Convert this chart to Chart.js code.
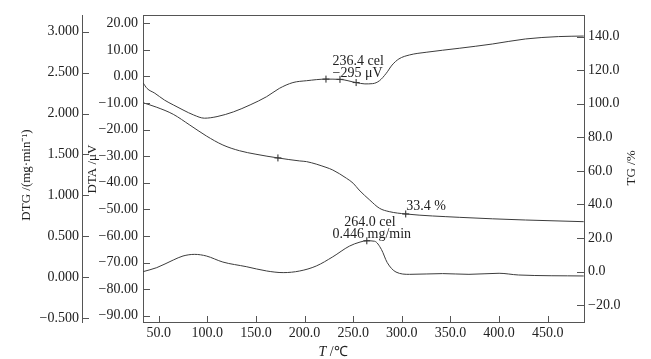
<!DOCTYPE html>
<html><head><meta charset="utf-8">
<script src="https://cdn.jsdelivr.net/npm/chart.js@4.4.1/dist/chart.umd.min.js"></script>
<style>html,body{margin:0;padding:0;background:#fff;}</style>
</head><body>
<canvas id="c" width="651" height="359" style="width:651px;height:359px;display:block"></canvas>
<script>
// ---- data ----
const dtaT = [34, 38, 46, 56, 65, 75, 86, 97, 110, 127, 144, 161, 174, 188, 202, 222, 236.4, 253, 262, 270, 277, 284, 290, 297, 308, 325, 359, 393, 427, 461, 487];
const dtaV = [-2.4, -4.5, -6.3, -8.9, -10.7, -12.6, -14.5, -15.7, -15.1, -13.3, -10.7, -7.6, -4.5, -2.3, -1.6, -1.0, -1.1, -2.3, -2.8, -2.7, -1.6, 1.2, 4.3, 6.6, 8.1, 9.1, 10.6, 12.2, 14.1, 15.0, 15.2];

const tgT = [34, 48, 65, 82, 99, 116, 133, 150, 172.6, 195, 202, 222, 229, 243, 250, 256, 267, 277, 287, 304, 359, 427, 487];
const tgV = [100.6, 97.9, 93.7, 87.3, 80.8, 75.4, 72.0, 69.9, 67.7, 65.9, 65.5, 62.1, 60.5, 55.6, 52.6, 48.6, 42.6, 37.7, 35.7, 34.3, 32.3, 30.7, 29.7];

const dtgT = [34, 48, 65, 75, 87, 99, 116, 140, 161, 178, 195, 212, 229, 246, 257, 264, 272, 279, 285, 294, 308, 342, 369, 400, 420, 487];
const dtgV = [0.069, 0.118, 0.211, 0.26, 0.28, 0.26, 0.186, 0.13, 0.077, 0.057, 0.077, 0.138, 0.25, 0.38, 0.43, 0.446, 0.44, 0.34, 0.179, 0.064, 0.036, 0.045, 0.036, 0.049, 0.028, 0.016];

// marker points
const dtaMarkT = [222, 236.4, 253];
const dtaMarkV = [-1.0, -1.1, -2.3];
const tgMarkT = [172.6, 304];
const tgMarkV = [67.7, 34.3];
const dtgMarkT = [264];
const dtgMarkV = [0.446];

// tick values and labels
const xTicks = [50, 100, 150, 200, 250, 300, 350, 400, 450];
const xTickLabels = ["50.0", "100.0", "150.0", "200.0", "250.0", "300.0", "350.0", "400.0", "450.0"];
const dtgTicks = [3, 2.5, 2, 1.5, 1, 0.5, 0, -0.5];
const dtgTickLabels = ["3.000", "2.500", "2.000", "1.500", "1.000", "0.500", "0.000", "\u22120.500"];
const dtaTicks = [20, 10, 0, -10, -20, -30, -40, -50, -60, -70, -80, -90];
const dtaTickLabels = ["20.00", "10.00", "0.00", "\u221210.00", "\u221220.00", "\u221230.00", "\u221240.00", "\u221250.00", "\u221260.00", "\u221270.00", "\u221280.00", "\u221290.00"];
const tgTicks = [140, 120, 100, 80, 60, 40, 20, 0, -20];
const tgTickLabels = ["140.0", "120.0", "100.0", "80.0", "60.0", "40.0", "20.0", "0.0", "\u221220.0"];

// annotation texts
const notes = [
  {text: "236.4 cel", x: 228.7, y: 5.55, axis: "yDTA"},
  {text: "\u2212295 \u03bcV", x: 228.7, y: 1.3, axis: "yDTA"},
  {text: "33.4 %", x: 304.5, y: 38.6, axis: "yTG"},
  {text: "264.0 cel", x: 240.9, y: 0.674, axis: "yDTG"},
  {text: "0.446 mg/min", x: 228.7, y: 0.524, axis: "yDTG"}
];

const FONT = "'Liberation Serif', 'Times New Roman', serif";
const LINE = '#3c3c3c';
const AXIS = '#555';
const TEXT = '#222';

const pts = (xs, ys) => xs.map((x, i) => ({x: x, y: ys[i]}));
const fixTicks = (vals) => (scale) => { scale.ticks = vals.map(v => ({value: v})); };
const lab = (vals, labels) => (v) => { const i = vals.indexOf(v); return i >= 0 ? labels[i] : ''; };

const lineDs = (data, axis) => ({
  data: data, yAxisID: axis, borderColor: LINE, borderWidth: 1, pointRadius: 0,
  cubicInterpolationMode: 'monotone', fill: false
});
const markDs = (data, axis) => ({
  data: data, yAxisID: axis, showLine: false, pointStyle: 'cross', pointRadius: 3.5,
  pointBorderColor: '#222', pointBorderWidth: 1, borderColor: '#222'
});

const decor = {
  id: 'decor',
  afterDraw(chart) {
    const ctx = chart.ctx, a = chart.chartArea, s = chart.scales;
    ctx.save();
    ctx.strokeStyle = AXIS; ctx.lineWidth = 1;
    ctx.beginPath();
    // top frame line
    ctx.moveTo(a.left, Math.round(a.top) + 0.5); ctx.lineTo(a.right, Math.round(a.top) + 0.5);
    s.x.ticks.forEach(t => { const p = Math.round(s.x.getPixelForValue(t.value)) + 0.5; ctx.moveTo(p, a.bottom); ctx.lineTo(p, a.bottom - 6); });
    s.yDTG.ticks.forEach(t => { const p = Math.round(s.yDTG.getPixelForValue(t.value)) + 0.5; ctx.moveTo(s.yDTG.right, p); ctx.lineTo(s.yDTG.right + 7, p); });
    s.yDTA.ticks.forEach(t => { const p = Math.round(s.yDTA.getPixelForValue(t.value)) + 0.5; ctx.moveTo(a.left, p); ctx.lineTo(a.left + 7, p); });
    s.yTG.ticks.forEach(t => { const p = Math.round(s.yTG.getPixelForValue(t.value)) + 0.5; ctx.moveTo(a.right, p); ctx.lineTo(a.right - 7, p); });
    ctx.stroke();

    // annotations
    ctx.fillStyle = TEXT;
    ctx.font = "14px " + FONT;
    ctx.textBaseline = 'middle'; ctx.textAlign = 'left';
    notes.forEach(n => {
      ctx.fillText(n.text, s.x.getPixelForValue(n.x), s[n.axis].getPixelForValue(n.y));
    });

    // axis titles
    ctx.font = "13px " + FONT;
    ctx.textAlign = 'center';
    const vtitle = (txt, x, y) => { ctx.save(); ctx.translate(x, y); ctx.rotate(-Math.PI / 2); ctx.fillText(txt, 0, 0); ctx.restore(); };
    vtitle("DTG /(mg\u00b7min\u207b\u00b9)", 27, 175);
    vtitle("DTA /\u03bcV", 93, 169);
    vtitle("TG /%", 632, 168);

    // x title: italic T + " /℃"
    ctx.textAlign = 'left';
    ctx.font = "italic 14px " + FONT;
    const w1 = ctx.measureText("T").width;
    ctx.font = "14px " + FONT;
    const w2 = ctx.measureText(" /\u2103").width;
    const x0 = 333 - (w1 + w2) / 2;
    ctx.font = "italic 14px " + FONT;
    ctx.fillText("T", x0, 352);
    ctx.font = "14px " + FONT;
    ctx.fillText(" /\u2103", x0 + w1, 352);
    ctx.restore();
  }
};

const tickFont = {family: FONT, size: 14};

new Chart(document.getElementById('c'), {
  type: 'line',
  data: {
    datasets: [
      lineDs(pts(dtaT, dtaV), 'yDTA'),
      lineDs(pts(tgT, tgV), 'yTG'),
      lineDs(pts(dtgT, dtgV), 'yDTG'),
      markDs(pts(dtaMarkT, dtaMarkV), 'yDTA'),
      markDs(pts(tgMarkT, tgMarkV), 'yTG'),
      markDs(pts(dtgMarkT, dtgMarkV), 'yDTG')
    ]
  },
  options: {
    responsive: false, animation: false, devicePixelRatio: 1,
    layout: {padding: {top: 15, left: 0, right: 0, bottom: 0}},
    plugins: {legend: {display: false}, tooltip: {enabled: false}},
    scales: {
      x: {
        type: 'linear', position: 'bottom', min: 33.86, max: 487.3,
        afterBuildTicks: fixTicks(xTicks),
        afterFit: (sc) => { sc.height = 37; },
        grid: {display: false, drawTicks: false},
        border: {display: true, color: AXIS, width: 1},
        ticks: {autoSkip: false, maxRotation: 0, padding: 3, color: TEXT, font: tickFont, callback: lab(xTicks, xTickLabels)}
      },
      yDTG: {
        type: 'linear', position: 'left', weight: 2, min: -0.546, max: 3.203,
        afterBuildTicks: fixTicks(dtgTicks),
        afterFit: (sc) => { sc.width = 82; },
        grid: {display: false, drawTicks: false},
        border: {display: true, color: AXIS, width: 1},
        ticks: {autoSkip: false, padding: 3, color: TEXT, font: tickFont, callback: lab(dtgTicks, dtgTickLabels)}
      },
      yDTA: {
        type: 'linear', position: 'left', weight: 1, min: -92.37, max: 23.12,
        afterBuildTicks: fixTicks(dtaTicks),
        afterFit: (sc) => { sc.width = 61; },
        grid: {display: false, drawTicks: false},
        border: {display: true, color: AXIS, width: 1},
        ticks: {autoSkip: false, padding: 5, color: TEXT, font: tickFont, callback: lab(dtaTicks, dtaTickLabels)}
      },
      yTG: {
        type: 'linear', position: 'right', min: -30.1, max: 152.9,
        afterBuildTicks: fixTicks(tgTicks),
        afterFit: (sc) => { sc.width = 67; },
        grid: {display: false, drawTicks: false},
        border: {display: true, color: AXIS, width: 1},
        ticks: {autoSkip: false, padding: 4, color: TEXT, font: tickFont, callback: lab(tgTicks, tgTickLabels)}
      }
    }
  },
  plugins: [decor]
});
</script>
</body></html>
